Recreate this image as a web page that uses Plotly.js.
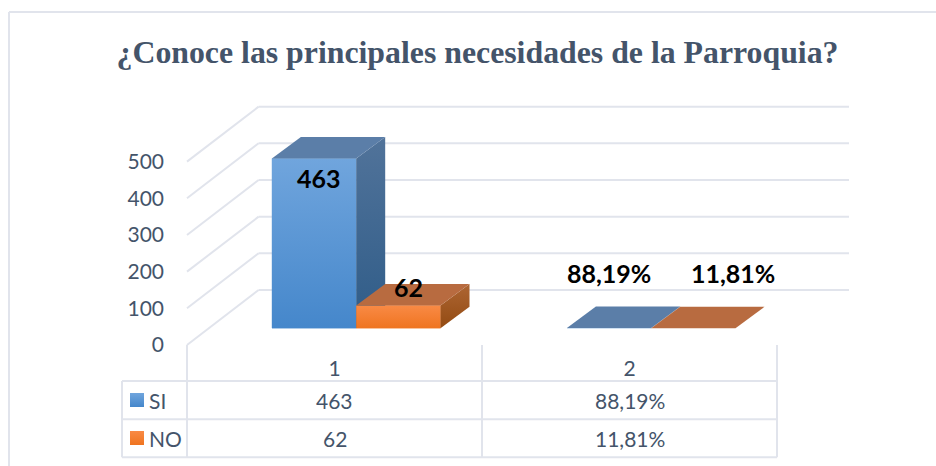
<!DOCTYPE html>
<html>
<head>
<meta charset="utf-8">
<script src="https://cdn.plot.ly/plotly-3.0.1.min.js"></script>
<style>html,body{margin:0;padding:0;background:#fff}#c{width:936px;height:466px}</style>
</head>
<body>
<div id="c"></div>
<script>
const categories = [1, 2];
const siValues = [463, 0.8819];
const noValues = [62, 0.1181];
const siLabels = ['463', '88,19%'];
const noLabels = ['62', '11,81%'];
const yTicks = [0, 100, 200, 300, 400, 500];
const titleText = '¿Conoce las principales necesidades de la Parroquia?';

const TEXT = '#44546a', GRID = '#e1e4ec', LF = 'Lato, "Open Sans", sans-serif';
const W = 936, H = 466, L = 187, R = 849, B = 345, CATW = 295, YS = 0.3667;
const xPx = p => 0.5 + (p - L) / CATW;
const yPx = p => (B - p) / YS;

const backDX = 71.6 / CATW, backDY = 55 / YS;       // wall depth
const barDX = 29 / CATW, barDY = 21.5 / YS;         // bar depth
const floorY = 16.7 / YS;                           // bar front on floor
const barW = 84.3 / CATW, shift = 21.7 / CATW;
const offSI = shift - barW, offNO = shift;

function poly(xs, ys, c0, c1) {
  return {type: 'scatter', mode: 'none', x: xs.concat(xs[0]), y: ys.concat(ys[0]), fill: 'toself',
    fillgradient: {type: 'vertical', colorscale: [[0, c0], [1, c1]]},
    hoverinfo: 'skip', showlegend: false};
}
function faces(cat, off, v, sideTop, sideBot, top) {
  const x0 = cat + off, x1 = x0 + barW, b = floorY, t = floorY + v;
  return [
    poly([x1, x1 + barDX, x1 + barDX, x1], [b, b + barDY, t + barDY, t], sideBot, sideTop),
    poly([x0, x1, x1 + barDX, x0 + barDX], [t, t, t + barDY, t + barDY], top, top)
  ];
}
function front(cat, off, v, cBot, cTop) {
  const x0 = cat + off, x1 = x0 + barW, b = floorY, t = floorY + v;
  return poly([x0, x1, x1, x0], [b, b, t, t], cBot, cTop);
}

const traces = [
  {type: 'bar', name: 'SI', x: categories, y: siValues, base: floorY, width: barW, offset: offSI,
   marker: {color: '#4587cb'}, hoverinfo: 'x+y'},
  {type: 'bar', name: 'NO', x: categories, y: noValues, base: floorY, width: barW, offset: offNO,
   marker: {color: '#ef7420'}, hoverinfo: 'x+y'}
];
categories.forEach((c, i) => {
  if (siValues[i] > 5) traces.push(front(c, offSI, siValues[i], '#4587cb', '#70a5dd'));
  traces.push(...faces(c, offSI, siValues[i], '#51739a', '#2f5c88', '#5b7ea8'));
  if (noValues[i] > 5) traces.push(front(c, offNO, noValues[i], '#ef7420', '#f98a45'));
  traces.push(...faces(c, offNO, noValues[i], '#ad6533', '#934b12', '#b86b40'));
});
// legend keys in the table
traces.push({type: 'scatter', mode: 'markers', x: [xPx(137)], y: [yPx(400)], showlegend: false, hoverinfo: 'skip',
  marker: {symbol: 'square', size: 14, color: '#70a5dd', gradient: {type: 'vertical', color: '#4587cb'}}});
traces.push({type: 'scatter', mode: 'markers', x: [xPx(137)], y: [yPx(438)], showlegend: false, hoverinfo: 'skip',
  marker: {symbol: 'square', size: 14, color: '#f98a45', gradient: {type: 'vertical', color: '#ef7420'}}});

const shapes = [];
const ln = (x0, y0, x1, y1) => ({type: 'line', layer: 'below', xref: 'x', yref: 'y', x0, y0, x1, y1, line: {color: GRID, width: 2}});
yTicks.forEach(v => {
  shapes.push(ln(0.5, v, 0.5 + backDX, v + backDY));
  shapes.push(ln(0.5 + backDX, v + backDY, xPx(R), v + backDY));
});
// frame
shapes.push(ln(xPx(9), yPx(12), xPx(W), yPx(12)));
shapes.push(ln(xPx(9), yPx(12), xPx(9), yPx(H)));
// table
[381, 419.3, 457.3].forEach(p => shapes.push(ln(xPx(122), yPx(p), xPx(777), yPx(p))));
shapes.push(ln(xPx(122), yPx(381), xPx(122), yPx(457.3)));
[187, 482, 777].forEach(p => shapes.push(ln(xPx(p), yPx(345), xPx(p), yPx(457.3))));

const ann = (text, x, y, size, bold, color) => ({text: bold ? '<b>' + text + '</b>' : text, x, y, xref: 'x', yref: 'y',
  showarrow: false, xanchor: 'center', yanchor: 'middle', font: {family: LF, size, color: color || TEXT}});
const annotations = [];
categories.forEach((c, i) => {
  annotations.push(ann(siLabels[i], c, yPx(400), 21));
  annotations.push(ann(noLabels[i], c, yPx(438), 21));
});
annotations.push(ann('SI', xPx(157), yPx(400), 21));
annotations.push(ann('NO', xPx(165), yPx(438), 21));
// data labels
annotations.push(ann(siLabels[0], xPx(319), yPx(178), 25, true, '#000'));
annotations.push(ann(noLabels[0], xPx(408), yPx(287), 25, true, '#000'));
annotations.push(ann(siLabels[1], xPx(609), yPx(273), 25, true, '#000'));
annotations.push(ann(noLabels[1], xPx(733), yPx(273), 25, true, '#000'));

Plotly.newPlot('c', traces, {
  width: W, height: H,
  margin: {l: 0, r: 0, t: 0, b: 0, pad: 0},
  paper_bgcolor: '#fff', plot_bgcolor: 'rgba(0,0,0,0)',
  showlegend: false, barmode: 'overlay',
  title: {text: '<b>' + titleText + '</b>', x: 477.5 / W, xanchor: 'center', xref: 'container',
    y: 1 - 52 / H, yanchor: 'middle', font: {family: '"Liberation Serif", serif', size: 31.8, color: TEXT}},
  xaxis: {domain: [0, 1], range: [xPx(0), xPx(W)], anchor: 'free', position: (H - B) / H,
    tickmode: 'array', tickvals: categories, ticktext: categories.map(String),
    showgrid: false, zeroline: false, showline: false, ticks: '', ticklabelstandoff: 9,
    tickfont: {family: LF, size: 21, color: TEXT}},
  yaxis: {domain: [0, 1], range: [yPx(H), yPx(0)], anchor: 'free', position: L / W,
    tickmode: 'array', tickvals: yTicks, ticktext: yTicks.map(String),
    showgrid: false, zeroline: false, showline: false, ticks: '', ticklabelstandoff: 23,
    tickfont: {family: LF, size: 21, color: TEXT}},
  shapes, annotations
}, {displayModeBar: false, staticPlot: true});
</script>
</body>
</html>
